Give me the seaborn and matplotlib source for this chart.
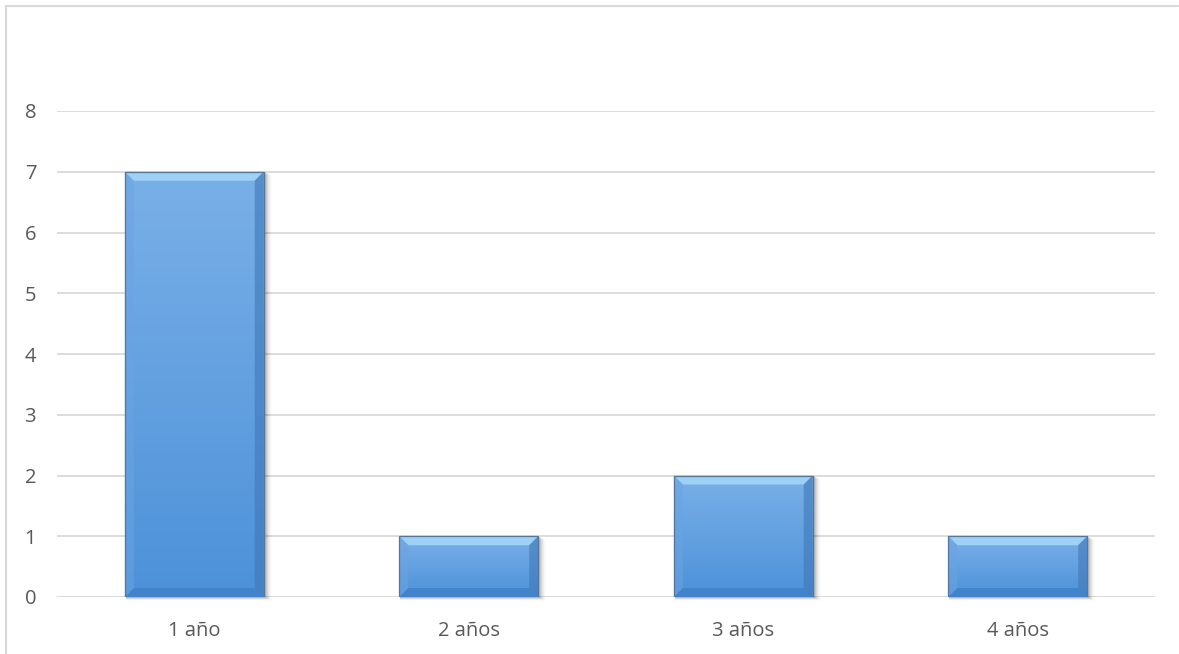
import numpy as np
import pandas as pd
import matplotlib
matplotlib.use("Agg")
import matplotlib.pyplot as plt
from matplotlib.patches import Polygon, Rectangle
from matplotlib.lines import Line2D
import seaborn as sns

# Data
categories = ["1 año", "2 años", "3 años", "4 años"]
values = [7, 1, 2, 1]
y_ticks = [0, 1, 2, 3, 4, 5, 6, 7, 8]

df = pd.DataFrame({"categoria": categories, "valor": values})

sns.set_theme(style="white")
plt.rcParams["font.family"] = ["Open Sans", "DejaVu Sans"]

W, H, DPI = 1179, 654, 100
fig = plt.figure(figsize=(W / DPI, H / DPI), dpi=DPI)
ax = fig.add_axes([57 / W, 1 - 597 / H, (1155 - 57) / W, (597 - 111) / H])

sns.barplot(data=df, x="categoria", y="valor", ax=ax, width=0.506,
            color="#5b9bdf", edgecolor="none", linewidth=0, zorder=3)

ax.set_xlim(-0.5, len(categories) - 0.5)
ax.set_ylim(0, 8)
ax.set_yticks(y_ticks)
ax.set_xlabel("")
ax.set_ylabel("")
ax.grid(axis="y", color="#d9d9d9", linewidth=1.3, zorder=0)
ax.grid(axis="x", visible=False)
for s in ax.spines.values():
    s.set_visible(False)
ax.tick_params(axis="both", length=0, labelsize=14.5, labelcolor="#595959")
ax.tick_params(axis="y", pad=15)
ax.tick_params(axis="x", pad=17)

# Pixel-to-data scale for bevel and shadow sizes
px_x = (ax.get_xlim()[1] - ax.get_xlim()[0]) / (1155 - 57)
px_y = (ax.get_ylim()[1] - ax.get_ylim()[0]) / (597 - 111)
bev = 9

grad = np.linspace(0, 1, 256).reshape(-1, 1)
top_c = np.array([0.48, 0.69, 0.91])
bot_c = np.array([0.30, 0.57, 0.85])
img = top_c[None, None, :] * (1 - grad[..., None]) + bot_c[None, None, :] * grad[..., None]

for p in list(ax.patches):
    x0, y0 = p.get_x(), p.get_y()
    w, h = p.get_width(), p.get_height()
    x1, y1 = x0 + w, y0 + h
    # soft shadow on the right and below
    for k, a in zip(range(1, 8), [0.09, 0.07, 0.055, 0.04, 0.03, 0.02, 0.012]):
        ax.add_patch(Rectangle((x0 + 1 * px_x, y0 - k * px_y * 0.5), w + k * px_x, h,
                               facecolor="#000000", alpha=a, edgecolor="none",
                               zorder=2, clip_on=False))
    # vertical gradient body
    im = ax.imshow(img, extent=(x0, x1, y0, y1), aspect="auto", zorder=3.5,
                   interpolation="bilinear")
    im.set_clip_path(p)
    bx, by = bev * px_x, bev * px_y
    # bevel faces
    top = Polygon([(x0, y1), (x1, y1), (x1 - bx, y1 - by), (x0 + bx, y1 - by)],
                  closed=True, facecolor="#9fd0f6", edgecolor="none", zorder=4)
    bottom = Polygon([(x0, y0), (x1, y0), (x1 - bx, y0 + by), (x0 + bx, y0 + by)],
                     closed=True, facecolor="#4283cc", edgecolor="none", zorder=4)
    left = Polygon([(x0, y0), (x0, y1), (x0 + bx, y1 - by), (x0 + bx, y0 + by)],
                   closed=True, facecolor="#6aa4e2", edgecolor="none", alpha=0.55, zorder=4)
    right = Polygon([(x1, y0), (x1, y1), (x1 - bx, y1 - by), (x1 - bx, y0 + by)],
                    closed=True, facecolor="#3f78b8", edgecolor="none", alpha=0.6, zorder=4)
    for poly in (top, bottom, left, right):
        ax.add_patch(poly)
    ax.add_patch(Rectangle((x0, y0), w, h, facecolor="none",
                           edgecolor="#56779a", linewidth=0.9, zorder=5))

# Chart frame (top and left edges)
fig.add_artist(Line2D([5.5 / W, 5.5 / W], [0, 1 - 6 / H], color="#d9d9d9",
                      linewidth=1.5, transform=fig.transFigure))
fig.add_artist(Line2D([5.5 / W, 1178 / W], [1 - 6 / H, 1 - 6 / H], color="#d9d9d9",
                      linewidth=1.5, transform=fig.transFigure))

fig.savefig("out.png", dpi=DPI, facecolor="white")
